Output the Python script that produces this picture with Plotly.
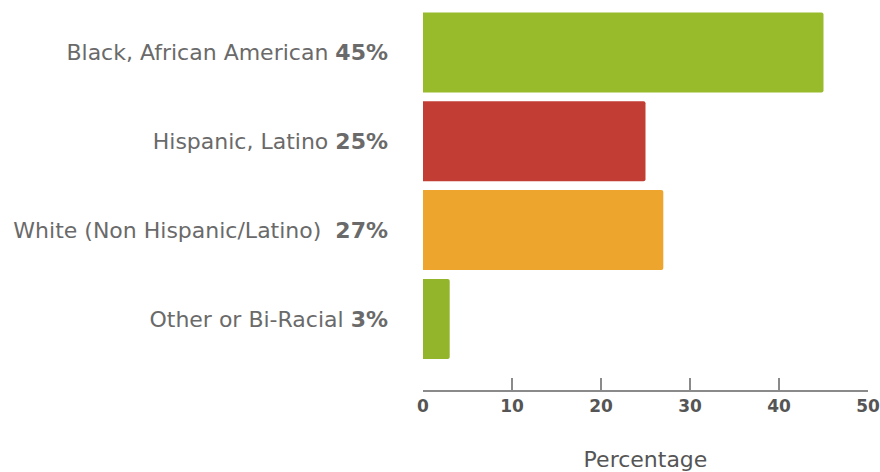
import plotly.graph_objects as go

categories = ["Black, African American", "Hispanic, Latino", "White (Non Hispanic/Latino) ", "Other or Bi-Racial"]
values = [45, 25, 27, 3]
pct_labels = ["45%", "25%", "27%", "3%"]
colors = ["#98BB2C", "#C23E34", "#EDA52E", "#93B52C"]
x_ticks = [0, 10, 20, 30, 40, 50]

ticktext = [f"{c} <b>{p}</b>" for c, p in zip(categories, pct_labels)]

fig = go.Figure(go.Bar(
    x=values, y=list(range(len(categories))), orientation="h",
    marker=dict(color=colors, line=dict(width=0), cornerradius=2),
    width=0.9, hoverinfo="skip",
))

fig.update_layout(
    width=880, height=472,
    margin=dict(l=423, r=12, t=8, b=82),
    plot_bgcolor="white", paper_bgcolor="white",
    showlegend=False,
    font=dict(family="DejaVu Sans", color="#666666"),
    xaxis=dict(
        range=[0, 50], tickvals=x_ticks, ticks="inside", ticklen=12, tickwidth=1.5,
        tickcolor="#8a8a8a", showline=True, linecolor="#8a8a8a", linewidth=1.5,
        showgrid=False, zeroline=False, automargin=False,
        tickfont=dict(family="DejaVu Sans", size=17, color="#555555", weight="bold"),
        title=dict(text="Percentage", font=dict(family="DejaVu Sans", size=22, color="#555555"), standoff=39),
    ),
    yaxis=dict(
        range=[3.8, -0.5], tickvals=list(range(len(categories))), ticktext=ticktext,
        showgrid=False, zeroline=False, showline=False, ticks="",
        ticklabelstandoff=34, automargin=False,
        tickfont=dict(family="DejaVu Sans", size=22, color="#6a6a6a"),
    ),
)

fig.write_html("out.html", config={"displayModeBar": False, "staticPlot": True},
               post_script="document.body.style.margin='0';document.body.style.overflow='hidden';")
